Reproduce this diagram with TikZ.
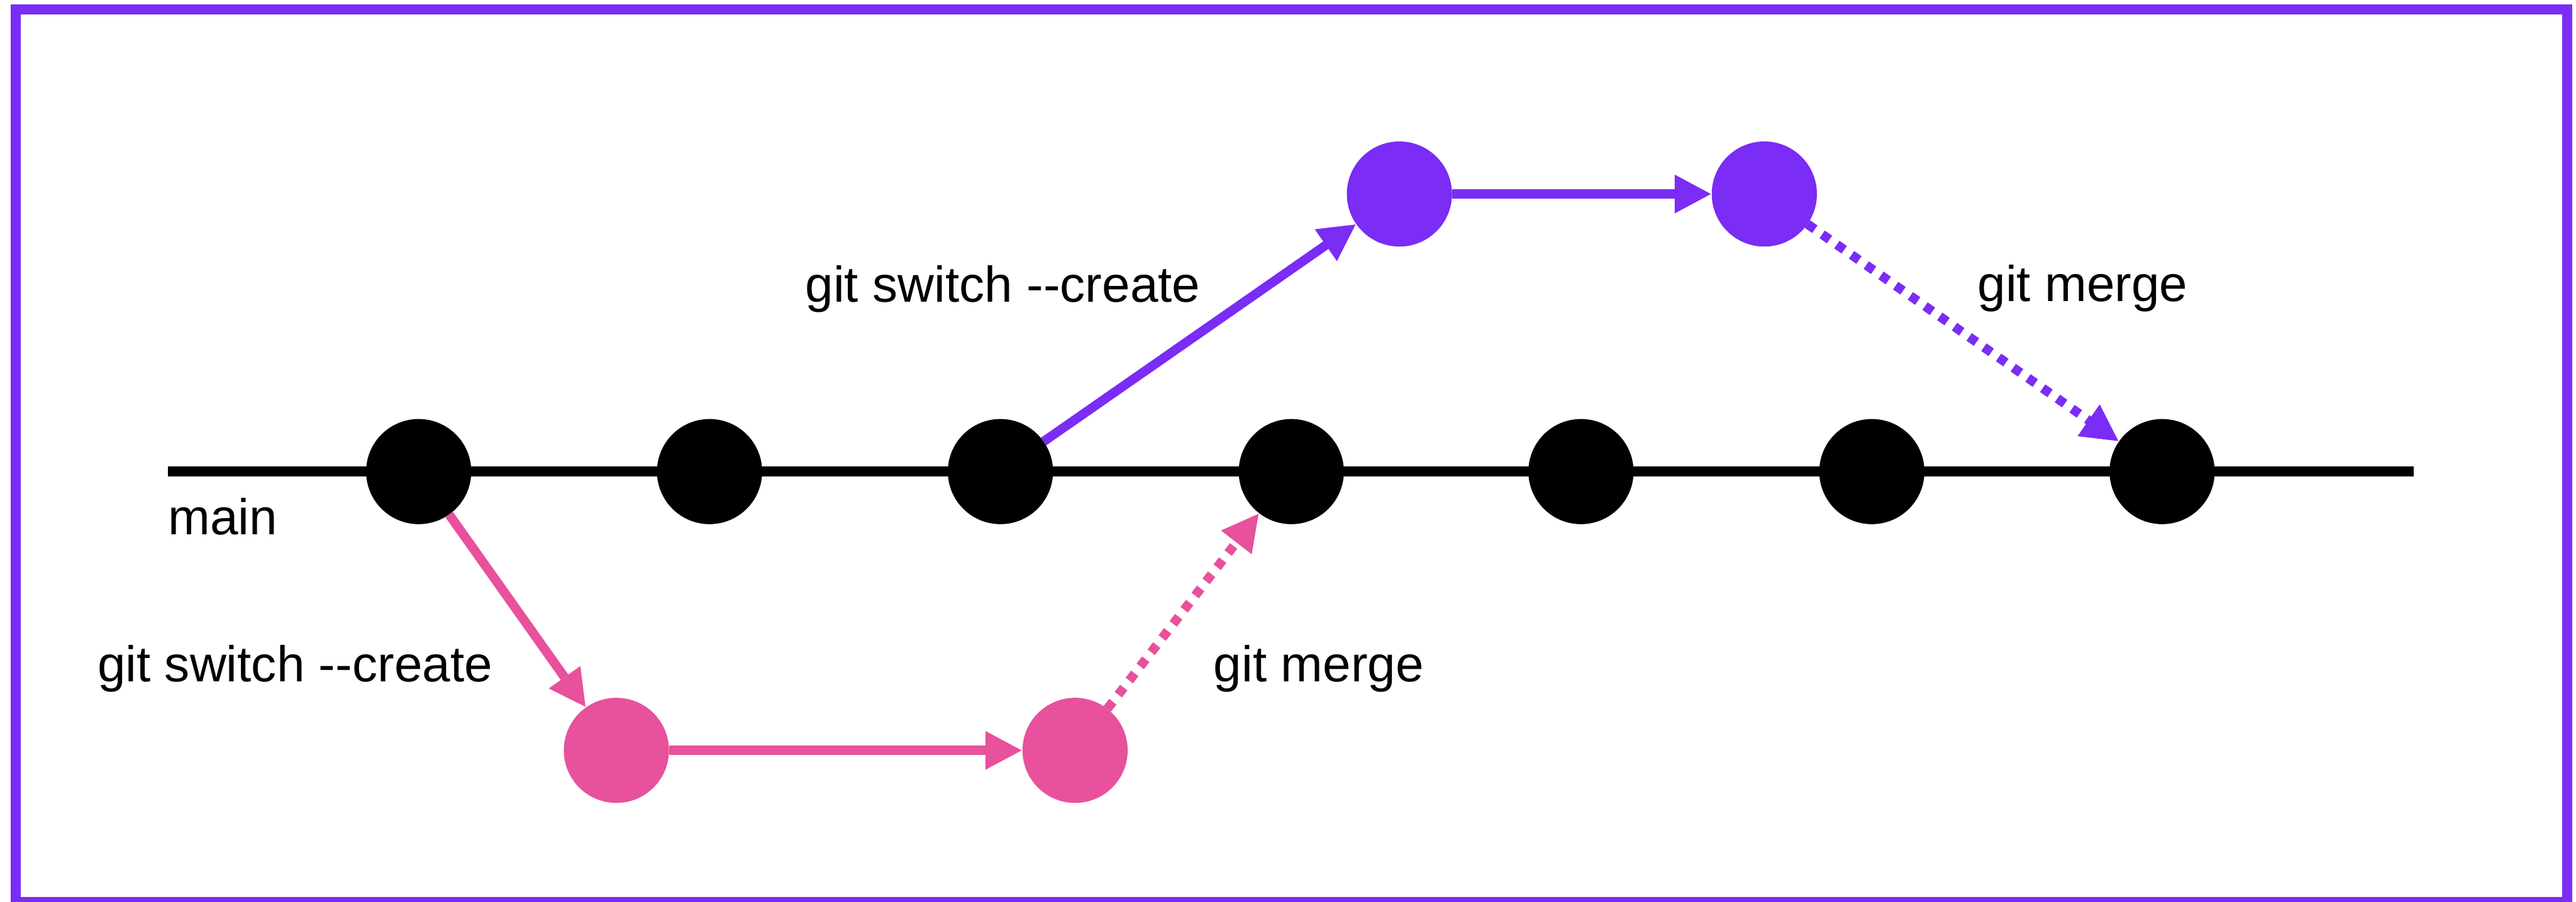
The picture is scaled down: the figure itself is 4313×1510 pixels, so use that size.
\documentclass[tikz,border=0pt]{standalone}
\usepackage{fontspec}
\setmainfont{Liberation Sans}
\usetikzlibrary{arrows.meta}

\definecolor{branchpurple}{RGB}{123,44,245}
\definecolor{branchpink}{RGB}{232,81,156}

\tikzset{
  commit/.style={circle, minimum size=1.76cm, inner sep=0pt, outer sep=0pt, fill=#1, draw=none},
  link/.style={line width=0.155cm, draw=#1, -{Triangle[length=0.62cm, width=0.6cm]}},
  dottedlink/.style={link=#1, dash pattern=on 0.15cm off 0.15cm},
  label/.style={font=\fontsize{24pt}{28pt}\selectfont, inner sep=0pt, anchor=base},
}

\begin{document}
\begin{tikzpicture}[x=0.01cm, y=-0.01cm]
  \useasboundingbox (0,0) rectangle (4313,1510);
  % outer frame
  \draw[branchpurple, line width=0.17cm] (26,16) rectangle (4298,1511);

  % main branch line
  \coordinate (mainstart) at (281,790);
  \coordinate (mainend) at (4041,790);
  \draw[line width=0.17cm] (mainstart) -- (mainend);

  % commits on main
  \node[commit=black] (m1) at (701,790) {};
  \node[commit=black] (m2) at (1188,790) {};
  \node[commit=black] (m3) at (1675,790) {};
  \node[commit=black] (m4) at (2162,790) {};
  \node[commit=black] (m5) at (2647,790) {};
  \node[commit=black] (m6) at (3134,790) {};
  \node[commit=black] (m7) at (3620,790) {};

  % pink feature branch
  \node[commit=branchpink] (p1) at (1032,1257) {};
  \node[commit=branchpink] (p2) at (1800,1257) {};

  % purple feature branch
  \node[commit=branchpurple] (u1) at (2343,325) {};
  \node[commit=branchpurple] (u2) at (2954,325) {};

  % connectors
  \draw[link=branchpink] (m1) -- (p1);
  \draw[link=branchpink] (p1) -- (p2);
  \draw[dottedlink=branchpink] (p2) -- (m4);
  \draw[link=branchpurple] (m3) -- (u1);
  \draw[link=branchpurple] (u1) -- (u2);
  \draw[dottedlink=branchpurple] (u2) -- (m7);

  % labels
  \node[label, anchor=base west] (lmain) at (281,896) {main};
  \node[label] (lswitchlow) at (494,1142) {git switch -{}-create};
  \node[label] (lswitchhigh) at (1679,506) {git switch -{}-create};
  \node[label] (lmergelow) at (2208,1142) {git merge};
  \node[label] (lmergehigh) at (3487,505) {git merge};
\end{tikzpicture}
\end{document}
